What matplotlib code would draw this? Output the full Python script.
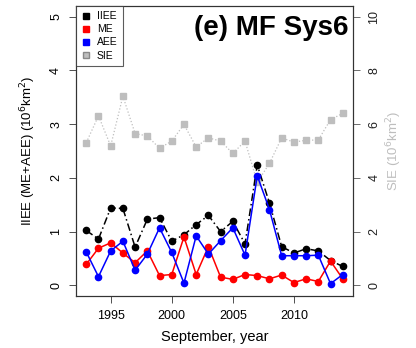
import matplotlib
matplotlib.use("Agg")
from matplotlib import pyplot as plt
from matplotlib.lines import Line2D

plt.rcParams['font.family'] = ['Liberation Sans', 'DejaVu Sans']

years = list(range(1993, 2015))
iiee = [1.02, 0.86, 1.44, 1.43, 0.71, 1.23, 1.26, 0.82, 0.94, 1.13, 1.30, 1.00,
        1.19, 0.77, 2.24, 1.53, 0.72, 0.60, 0.68, 0.64, 0.46, 0.35]
me = [0.39, 0.69, 0.79, 0.60, 0.42, 0.64, 0.18, 0.20, 0.90, 0.20, 0.72, 0.15,
      0.11, 0.20, 0.18, 0.12, 0.19, 0.05, 0.12, 0.07, 0.45, 0.12]
aee = [0.62, 0.16, 0.64, 0.82, 0.28, 0.58, 1.07, 0.61, 0.04, 0.92, 0.58, 0.83,
       1.07, 0.56, 2.04, 1.41, 0.55, 0.55, 0.55, 0.56, 0.03, 0.20]
sie = [5.31, 6.31, 5.19, 7.04, 5.65, 5.56, 5.10, 5.37, 5.99, 5.15, 5.49, 5.37,
       4.91, 5.37, 3.83, 4.54, 5.49, 5.33, 5.40, 5.41, 6.17, 6.40]

grey = '#BEBEBE'

fig = plt.figure(figsize=(4.16, 3.48), dpi=100)
ax = fig.add_axes([76 / 416, 1 - 296 / 348, 277 / 416, 290 / 348])
ax2 = ax.twinx()

# SIE on the right axis, drawn behind the other series
ax2.plot(years, sie, color=grey, linestyle=':', linewidth=0.9,
         marker='s', markersize=4.5, markeredgecolor=grey)
ax.set_zorder(ax2.get_zorder() + 1)
ax.patch.set_visible(False)

ax.plot(years, iiee, color='black', linestyle=(0, (5, 2, 1, 2)), linewidth=1.1,
        marker='o', markersize=4.5)
ax.plot(years, me, color='red', linewidth=1.1, marker='o', markersize=4.5)
ax.plot(years, aee, color='blue', linewidth=1.1, marker='o', markersize=4.5)

ax.set_xlim(1992.16, 2014.84)
ax.set_ylim(-0.2, 5.2)
ax2.set_ylim(-0.4, 10.4)

ax.set_xticks([1995, 2000, 2005, 2010])
ax.set_yticks([0, 1, 2, 3, 4, 5])
ax2.set_yticks([0, 2, 4, 6, 8, 10])

ax.tick_params(direction='out', length=5, width=0.6, labelsize=9, colors='#333333',
               labelcolor='black')
ax2.tick_params(direction='out', length=5, width=0.6, labelsize=9, colors='#555555',
                labelcolor='#222222')
for lab in ax.get_yticklabels():
    lab.set_rotation(90)
    lab.set_va('center')
for lab in ax2.get_yticklabels():
    lab.set_rotation(90)
    lab.set_va('center')
ax.tick_params(axis='y', pad=5)
ax2.tick_params(axis='y', pad=6)
ax.tick_params(axis='x', pad=5)

for sp in ax.spines.values():
    sp.set_linewidth(0.8)
    sp.set_color('#333333')
for sp in ax2.spines.values():
    sp.set_linewidth(0.8)
    sp.set_color('#333333')

ax.set_xlabel('September, year', fontsize=10.5, labelpad=6)
ax.set_ylabel('IIEE (ME+AEE) (10$^{6}$km$^{2}$)', fontsize=9.5, labelpad=9)
ax2.set_ylabel('SIE (10$^{6}$km$^{2}$)', fontsize=9.5, color=grey,
               rotation=90, labelpad=3)

ax.text(0.985, 0.97, '(e) MF Sys6', transform=ax.transAxes, ha='right', va='top',
        fontsize=20, fontweight='bold')

handles = [
    Line2D([], [], linestyle='none', marker='s', markersize=5, color='black'),
    Line2D([], [], linestyle='none', marker='s', markersize=5, color='red'),
    Line2D([], [], linestyle='none', marker='s', markersize=5, color='blue'),
    Line2D([], [], linestyle='none', marker='s', markersize=5,
           markerfacecolor=grey, markeredgecolor='#888888'),
]
leg = ax.legend(handles, ['IIEE', 'ME', 'AEE', 'SIE'], loc='upper left',
                fontsize=7.5, frameon=True, fancybox=False, borderaxespad=0,
                handlelength=1.0, handletextpad=0.5, labelspacing=0.3,
                borderpad=0.5)
leg.get_frame().set_edgecolor('#333333')
leg.get_frame().set_linewidth(0.8)

fig.savefig('out.png', dpi=100)
